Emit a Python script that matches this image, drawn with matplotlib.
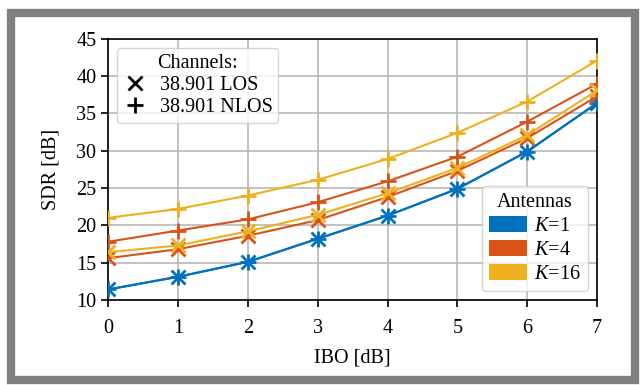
import matplotlib.pyplot as plt
from matplotlib.patches import Patch, Rectangle
from matplotlib.lines import Line2D

plt.rcParams['font.family'] = ['Liberation Serif', 'DejaVu Serif']
plt.rcParams['mathtext.fontset'] = 'custom'
plt.rcParams['mathtext.it'] = 'Liberation Serif:italic'
plt.rcParams['mathtext.rm'] = 'Liberation Serif'
plt.rcParams['font.size'] = 14.5

ibo = [0, 1, 2, 3, 4, 5, 6, 7]

# SDR [dB], LOS (x) and NLOS (+) per antenna count
k1_los = [11.4, 13.1, 15.1, 18.2, 21.3, 24.9, 29.9, 36.4]
k1_nlos = [11.4, 13.1, 15.1, 18.2, 21.3, 24.9, 29.9, 36.4]
k4_los = [15.6, 16.8, 18.6, 20.7, 23.8, 27.3, 31.7, 37.3]
k4_nlos = [17.8, 19.3, 20.8, 23.1, 25.9, 29.2, 33.9, 39.0]
k16_los = [16.4, 17.3, 19.2, 21.4, 24.3, 27.7, 32.1, 38.1]
k16_nlos = [21.0, 22.2, 24.0, 26.1, 28.9, 32.4, 36.6, 42.1]

antenna_labels = ['$K$=1', '$K$=4', '$K$=16']
channel_labels = ['38.901 LOS', '38.901 NLOS']
colors = ['#0072BD', '#D95319', '#EDB120']

fig = plt.figure(figsize=(6.4, 3.85), dpi=100)
ax = fig.add_axes([0.169, 0.221, 0.764, 0.678])

series = [(k1_los, k1_nlos), (k4_los, k4_nlos), (k16_los, k16_nlos)]
for (los, nlos), c in zip(series, colors):
    ax.plot(ibo, los, color=c, lw=1.5, marker='x', ms=10, mew=2, zorder=3)
    ax.plot(ibo, nlos, color=c, lw=1.5, marker='+', ms=12, mew=2, zorder=3)

ax.set_xlim(0, 7)
ax.set_ylim(10, 45)
ax.set_xticks(range(0, 8))
ax.set_yticks(range(10, 46, 5))
ax.grid(True, color='#b8b8b8', lw=1.2)
ax.set_axisbelow(True)
ax.tick_params(length=5, width=1.2)
ax.tick_params(axis='x', pad=9)
for s in ax.spines.values():
    s.set_linewidth(1.2)
ax.set_xlabel('IBO [dB]', labelpad=7)
ax.set_ylabel('SDR [dB]', labelpad=11)

ch_handles = [Line2D([], [], color='k', ls='none', marker='x', ms=10, mew=2),
              Line2D([], [], color='k', ls='none', marker='+', ms=12, mew=2)]
leg1 = ax.legend(ch_handles, channel_labels, title='Channels:', loc='upper left',
                 handlelength=1.2, handletextpad=0.6, borderaxespad=0.45,
                 labelspacing=0.15, borderpad=0.3, fontsize=14.5,
                 title_fontsize=14.5)
ax.add_artist(leg1)

ant_handles = [Patch(facecolor=c, edgecolor='none') for c in colors]
ax.legend(ant_handles, antenna_labels, title='Antennas', loc='lower right',
          handlelength=1.9, handleheight=0.85, handletextpad=0.35,
          borderaxespad=0.45, labelspacing=0.2, borderpad=0.35,
          fontsize=14.5, title_fontsize=14.5)

fig.patches.append(Rectangle((10.5 / 640, 5 / 385), 624.5 / 640, 367 / 385,
                             transform=fig.transFigure, fill=False,
                             edgecolor='#808080', lw=6))

fig.savefig('out.png', dpi=100)
